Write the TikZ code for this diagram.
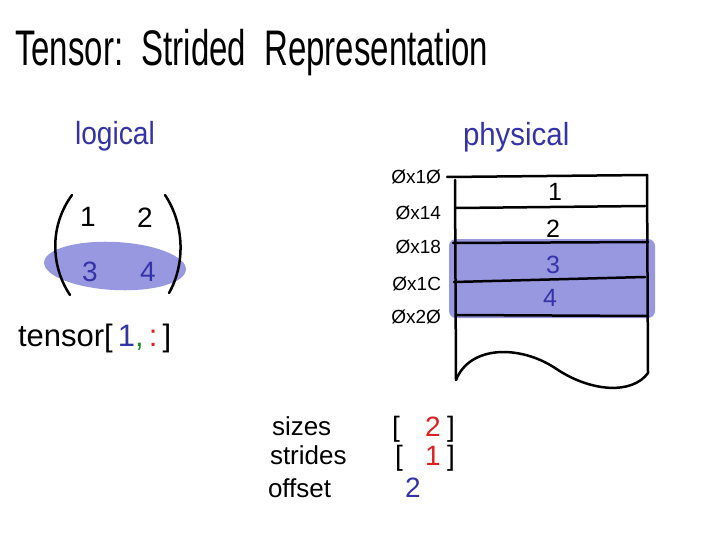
\documentclass[tikz,border=0pt]{standalone}
\usepackage{fontspec}
\setmainfont{Liberation Sans}
\usepackage{graphicx}
\definecolor{hl}{RGB}{152,152,224}
\definecolor{ink}{RGB}{52,52,168}
\definecolor{redink}{RGB}{222,32,32}
\definecolor{greenink}{RGB}{30,140,40}
\tikzset{
  pen/.style={line width=2.5pt, line cap=round, line join=round},
  txt/.style={inner sep=0pt, outer sep=0pt},
  fs/.style={font=\fontsize{#1}{#1}\selectfont}
}
\begin{document}
\begin{tikzpicture}[x=1pt,y=-1pt]
\useasboundingbox[fill=white] (0,0) rectangle (720,540);

% title
\node[txt, anchor=base west, fs=50] (title) at (15,66) {\scalebox{0.66}[1]{Tensor:\ \ Strided\ \ Representation}};

% headings
\node[txt, anchor=base west, fs=32, text=ink] (logical) at (75,145) {\scalebox{0.88}[1]{logical}};
\node[txt, anchor=base west, fs=32, text=ink] (physical) at (463,146) {\scalebox{0.92}[1]{physical}};

% logical matrix
\fill[hl, rotate around={-3:(115,266)}] (115,266) ellipse [x radius=71, y radius=24];
\draw[pen] (72,195) .. controls (50,225) and (50,265) .. (70,295);
\draw[pen] (165,195) .. controls (185,225) and (185,265) .. (169,293);
\node[txt, anchor=base, fs=28] (m11) at (88,226) {1};
\node[txt, anchor=base, fs=28] (m12) at (145,227) {2};
\node[txt, anchor=base, fs=28, text=ink] (m21) at (90,281) {3};
\node[txt, anchor=base, fs=28, text=ink] (m22) at (148,281) {4};

% tensor[1,:]
\node[txt, anchor=base west, fs=31] (idx) at (18,346) {tensor[\,\textcolor{ink}{1}\textcolor{greenink}{,}\,\textcolor{redink}{:}\,]};

% physical memory
\fill[hl, rounded corners=7pt] (449,239) rectangle (655,318);
\draw[pen] (447,177) -- (647,175);
\draw[pen] (455,180) -- (456,380);
\draw[pen] (647,175) -- (648,373);
\draw[pen] (456,208) -- (645,206);
\draw[pen] (453,243) -- (648,242);
\draw[pen] (454,282) -- (645,277);
\draw[pen] (456,315) -- (648,316);
\draw[pen] (456,380) .. controls (470,345) and (520,345) .. (555,368) .. controls (590,392) and (632,395) .. (648,373);

\node[txt, anchor=base, fs=25] (c1) at (555,201) {1};
\node[txt, anchor=base, fs=25] (c2) at (553,237) {2};
\node[txt, anchor=base, fs=25, text=ink] (c3) at (553,273) {3};
\node[txt, anchor=base, fs=25, text=ink] (c4) at (550,306) {4};

\node[txt, anchor=base east, fs=19] (a10) at (441,184) {Øx1Ø};
\node[txt, anchor=base east, fs=19] (a14) at (441,219) {Øx14};
\node[txt, anchor=base east, fs=19] (a18) at (441,254) {Øx18};
\node[txt, anchor=base east, fs=19] (a1C) at (441,290) {Øx1C};
\node[txt, anchor=base east, fs=19] (a20) at (441,323) {Øx2Ø};

% metadata
\node[txt, anchor=base west, fs=26] (sizes) at (272,435) {sizes};
\node[txt, anchor=base west, fs=26] (strides) at (270,464) {strides};
\node[txt, anchor=base west, fs=26] (offset) at (268,497) {offset};

\node[txt, anchor=base, fs=28] (sb1) at (396,436) {[};
\node[txt, anchor=base, fs=28, text=redink] (sv) at (433,436) {2};
\node[txt, anchor=base, fs=28] (sb2) at (451,436) {]};
\node[txt, anchor=base, fs=28] (tb1) at (399,465) {[};
\node[txt, anchor=base, fs=28, text=redink] (tv) at (433,465) {1};
\node[txt, anchor=base, fs=28] (tb2) at (451,465) {]};
\node[txt, anchor=base, fs=28, text=ink] (ov) at (413,497) {2};
\end{tikzpicture}
\end{document}
